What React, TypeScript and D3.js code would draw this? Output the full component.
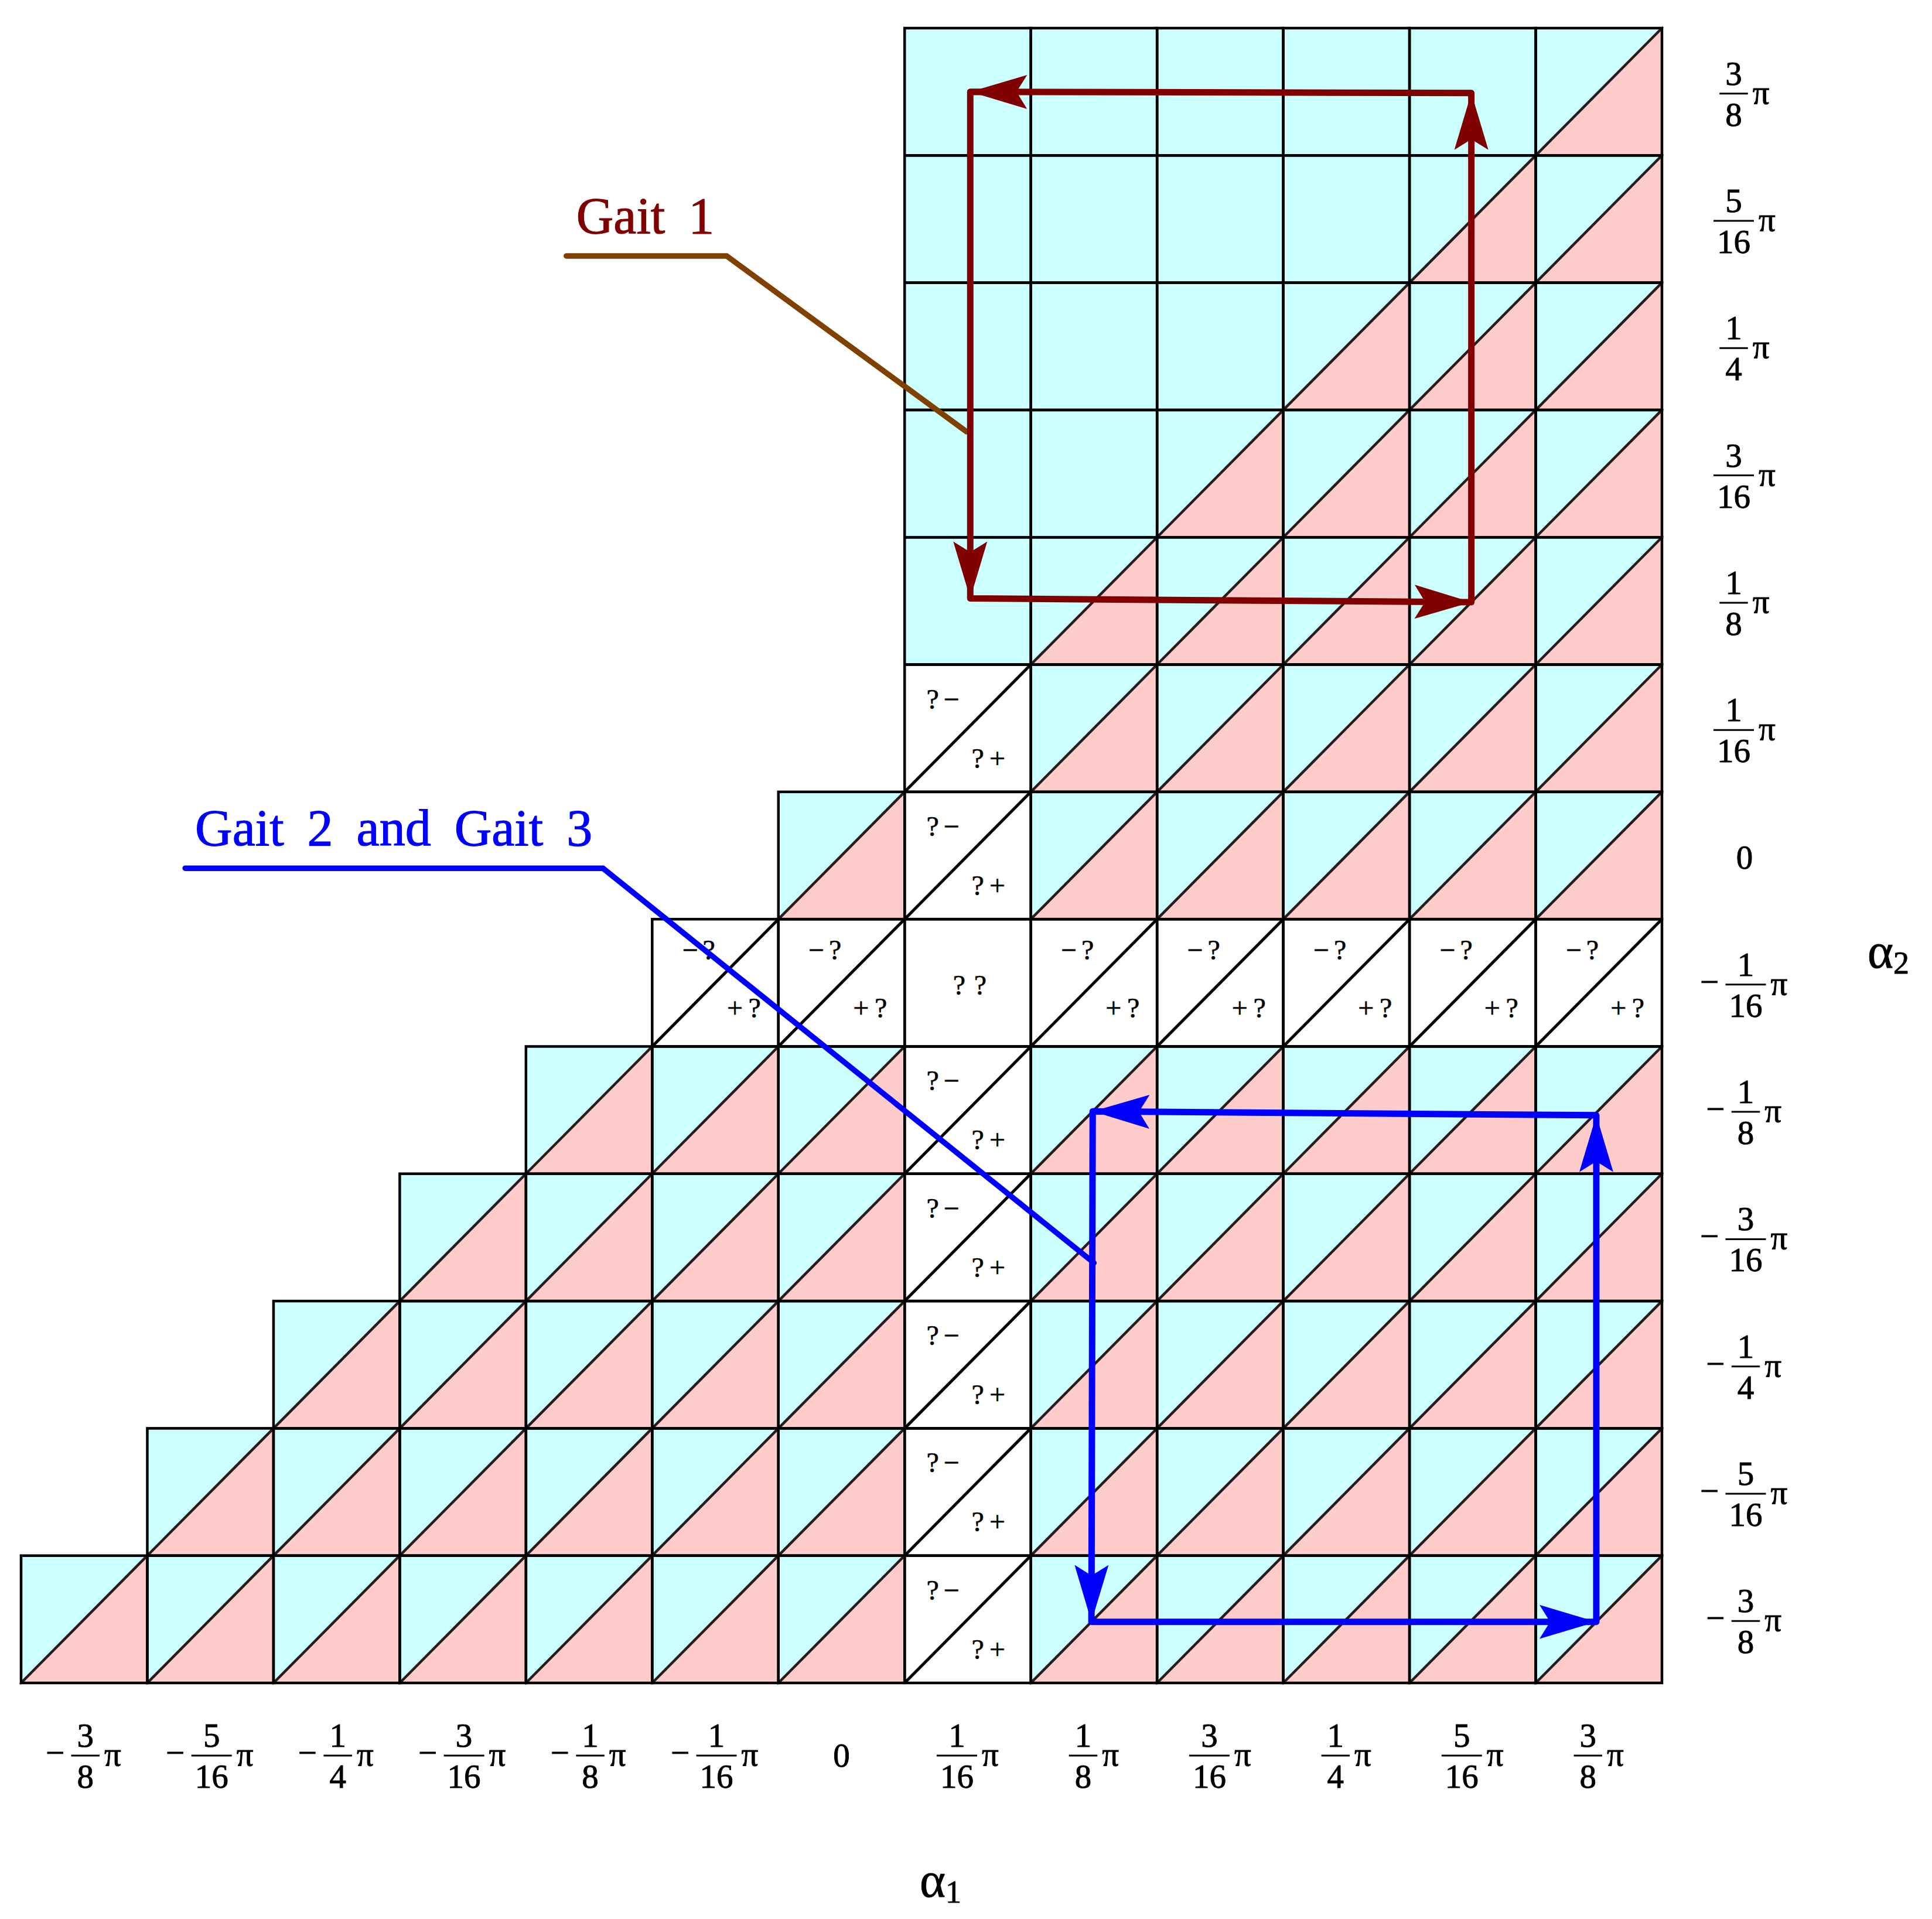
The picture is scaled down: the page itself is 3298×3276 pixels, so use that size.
import React from 'react';
import * as d3 from 'd3';

const WIDTH = 3298;
const HEIGHT = 3276;

// tick positions in units of pi/16
const alpha1Ticks = [-6, -5, -4, -3, -2, -1, 0, 1, 2, 3, 4, 5, 6];
const alpha1Labels = ['-3/8', '-5/16', '-1/4', '-3/16', '-1/8', '-1/16', '0', '1/16', '1/8', '3/16', '1/4', '5/16', '3/8'];
const alpha2Ticks = [6, 5, 4, 3, 2, 1, 0, -1, -2, -3, -4, -5, -6];
const alpha2Labels = ['3/8', '5/16', '1/4', '3/16', '1/8', '1/16', '0', '-1/16', '-1/8', '-3/16', '-1/4', '-5/16', '-3/8'];

// one string per alpha2 row (top to bottom), one char per alpha1 column
// . none, C cyan, S split cyan/pink, Q "?- / ?+", M "-? / +?", X "??"
const cellRows = [
  '.......CCCCCS',
  '.......CCCCSS',
  '.......CCCSSS',
  '.......CCSSSS',
  '.......CSSSSS',
  '.......QSSSSS',
  '......SQSSSSS',
  '.....MMXMMMMM',
  '....SSSQSSSSS',
  '...SSSSQSSSSS',
  '..SSSSSQSSSSS',
  '.SSSSSSQSSSSS',
  'SSSSSSSQSSSSS',
];

// gait loops [alpha1, alpha2] in pi/16 units, drawn TL -> BL -> BR -> TR -> TL
const gait1 = [[1.02, 6.0], [1.02, 2.02], [4.99, 1.99], [4.99, 5.99], [1.02, 6.0]];
const gait23 = [[1.99, -2.01], [1.98, -6.02], [5.98, -6.02], [5.98, -2.04], [1.99, -2.01]];

// leader lines for the annotations
const gait1Leader = [[-2.18, 4.71], [-0.91, 4.71], [0.99, 3.33]];
const gait23Leader = [[-5.2, -0.1], [-1.89, -0.1], [2.0, -3.2]];

const gaitLabels = ['Gait 1', 'Gait 2 and Gait 3'];

const CYAN = '#ccffff';
const PINK = '#ffcccc';
const FONT = '"Liberation Serif", "Times New Roman", serif';

// glyph placement inside the white cells, as fractions of the cell
const cellGlyphs = {
  Q: [
    { t: '?', fx: 0.222, fy: 0.345 }, { t: '\u2212', fx: 0.37, fy: 0.345 },
    { t: '?', fx: 0.58, fy: 0.81 }, { t: '+', fx: 0.735, fy: 0.81 },
  ],
  M: [
    { t: '\u2212', fx: 0.30, fy: 0.318 }, { t: '?', fx: 0.45, fy: 0.318 },
    { t: '+', fx: 0.655, fy: 0.772 }, { t: '?', fx: 0.812, fy: 0.772 },
  ],
  X: [
    { t: '?', fx: 0.432, fy: 0.594 }, { t: '?', fx: 0.599, fy: 0.594 },
  ],
};

function arrowHead(p0: number[], p1: number[]) {
  const dx = p1[0] - p0[0];
  const dy = p1[1] - p0[1];
  const len = Math.hypot(dx, dy);
  const ux = dx / len, uy = dy / len;
  const nx = -uy, ny = ux;
  const L = 97, hw = 29, notch = 79;
  const pts = [
    [p1[0], p1[1]],
    [p1[0] - ux * L + nx * hw, p1[1] - uy * L + ny * hw],
    [p1[0] - ux * notch, p1[1] - uy * notch],
    [p1[0] - ux * L - nx * hw, p1[1] - uy * L - ny * hw],
  ];
  return pts.map(p => p.join(',')).join(' ');
}

const txt = { fontFamily: FONT, stroke: '#000', strokeWidth: 0.9 };

function PiLabel({ cx, cy, label }: { cx: number; cy: number; label: string }) {
  const fs = 57;
  if (label === '0') {
    return <text x={cx} y={cy + 19} textAnchor="middle" fontSize={fs} {...txt}>0</text>;
  }
  const neg = label.startsWith('-');
  const [num, den] = label.replace('-', '').split('/');
  const maxLen = Math.max(num.length, den.length);
  const barW = fs * 0.5 * maxLen + (maxLen === 1 ? 20 : 12);
  const minusW = 27, minusGap = 14, piGap = 8, piW = 29;
  const total = (neg ? minusW + minusGap : 0) + barW + piGap + piW;
  let x0 = cx - total / 2;
  const parts = [];
  if (neg) {
    parts.push(<text key="m" x={x0 + minusW / 2} y={cy + 14} textAnchor="middle" fontSize={fs} {...txt}>{'\u2212'}</text>);
    x0 += minusW + minusGap;
  }
  const bc = x0 + barW / 2;
  parts.push(<line key="b" x1={x0} x2={x0 + barW} y1={cy} y2={cy} stroke="#000" strokeWidth={3} />);
  parts.push(<text key="n" x={bc} y={cy - 15} textAnchor="middle" fontSize={fs} {...txt}>{num}</text>);
  parts.push(<text key="d" x={bc} y={cy + 55} textAnchor="middle" fontSize={fs} {...txt}>{den}</text>);
  parts.push(<text key="p" x={x0 + barW + piGap} y={cy + 17} fontSize={fs} {...txt}>{'\u03c0'}</text>);
  return <g>{parts}</g>;
}

export default function App() {
  const x = d3.scaleLinear().domain([-6.5, 6.5]).range([36, 2837]);
  const y = d3.scaleLinear().domain([6.5, -6.5]).range([48, 2873]);
  const line = d3.line<number[]>().x(d => x(d[0])).y(d => y(d[1]));

  const cells: { kind: string; a1: number; a2: number }[] = [];
  cellRows.forEach((row, ri) => {
    row.split('').forEach((kind, ci) => {
      if (kind !== '.') cells.push({ kind, a1: alpha1Ticks[ci], a2: alpha2Ticks[ri] });
    });
  });

  const gaits = [
    { pts: gait1, leader: gait1Leader, color: '#800000', leaderColor: '#804000', label: gaitLabels[0] },
    { pts: gait23, leader: gait23Leader, color: '#0000ff', leaderColor: '#0000ff', label: gaitLabels[1] },
  ];

  return (
    <div style={{ position: 'absolute', left: 0, top: 0 }}>
      <svg width={WIDTH} height={HEIGHT} viewBox={`0 0 ${WIDTH} ${HEIGHT}`} style={{ display: 'block', background: '#fff' }}>
        {/* cells */}
        {cells.map((c, i) => {
          const x0 = x(c.a1 - 0.5), x1 = x(c.a1 + 0.5);
          const y0 = y(c.a2 + 0.5), y1 = y(c.a2 - 0.5);
          const w = x1 - x0, h = y1 - y0;
          return (
            <g key={i}>
              {c.kind === 'C' && <rect x={x0} y={y0} width={w} height={h} fill={CYAN} stroke="#336666" strokeWidth={3} />}
              {c.kind === 'S' && (
                <>
                  <polygon points={`${x0},${y0} ${x1},${y0} ${x0},${y1}`} fill={CYAN} stroke="#336666" strokeWidth={3} />
                  <polygon points={`${x1},${y0} ${x1},${y1} ${x0},${y1}`} fill={PINK} stroke="#663333" strokeWidth={3} />
                  <line x1={x0} y1={y1} x2={x1} y2={y0} stroke="#2a1a1a" strokeWidth={4.5} />
                </>
              )}
              {(c.kind === 'Q' || c.kind === 'M') && (
                <line x1={x0} y1={y1} x2={x1} y2={y0} stroke="#000" strokeWidth={5} />
              )}
              {(c.kind === 'Q' || c.kind === 'M' || c.kind === 'X') &&
                cellGlyphs[c.kind].map((g, j) => (
                  <text key={j} x={x0 + g.fx * w} y={y0 + g.fy * h} textAnchor="middle" fontSize={48} {...txt} strokeWidth={0.6}>{g.t}</text>
                ))}
            </g>
          );
        })}
        {/* cell borders */}
        {cells.map((c, i) => {
          const x0 = x(c.a1 - 0.5), x1 = x(c.a1 + 0.5);
          const y0 = y(c.a2 + 0.5), y1 = y(c.a2 - 0.5);
          return <rect key={'b' + i} x={x0} y={y0} width={x1 - x0} height={y1 - y0} fill="none" stroke="#000" strokeWidth={4.5} />;
        })}

        {/* gait loops, leaders and labels */}
        {gaits.map((g, gi) => {
          const px = g.pts.map(p => [x(p[0]), y(p[1])]);
          const lead = g.leader.map(p => [x(p[0]), y(p[1])]);
          return (
            <g key={gi}>
              <path d={line(g.leader) || ''} fill="none" stroke={g.leaderColor} strokeWidth={9.5} strokeLinecap="round" strokeLinejoin="miter" />
              <text x={lead[0][0] + 17} y={lead[0][1] - 39} fontSize={88} fontFamily={FONT} fill={g.color} stroke={g.color} strokeWidth={1.2} wordSpacing={18}>{g.label}</text>
              <path d={line(g.pts) || ''} fill="none" stroke={g.color} strokeWidth={11} strokeLinejoin="round" strokeLinecap="round" />
              {px.slice(1).map((p, k) => (
                <polygon key={k} points={arrowHead(px[k], p)} fill={g.color} />
              ))}
            </g>
          );
        })}

        {/* alpha1 tick labels */}
        {alpha1Ticks.map((t, i) => (
          <PiLabel key={'x' + i} cx={x(t)} cy={y.range()[1] + 124} label={alpha1Labels[i]} />
        ))}
        {/* alpha2 tick labels */}
        {alpha2Ticks.map((t, i) => (
          <PiLabel key={'y' + i} cx={x.range()[1] + 141} cy={y(t) + 3} label={alpha2Labels[i]} />
        ))}

        {/* axis titles */}
        <text x={1570} y={3238} fontSize={84} {...txt}>
          {'\u03b1'}<tspan fontSize={54} dy={10}>1</tspan>
        </text>
        <text x={3188} y={1652} fontSize={84} {...txt}>
          {'\u03b1'}<tspan fontSize={54} dy={10}>2</tspan>
        </text>
      </svg>
    </div>
  );
}
